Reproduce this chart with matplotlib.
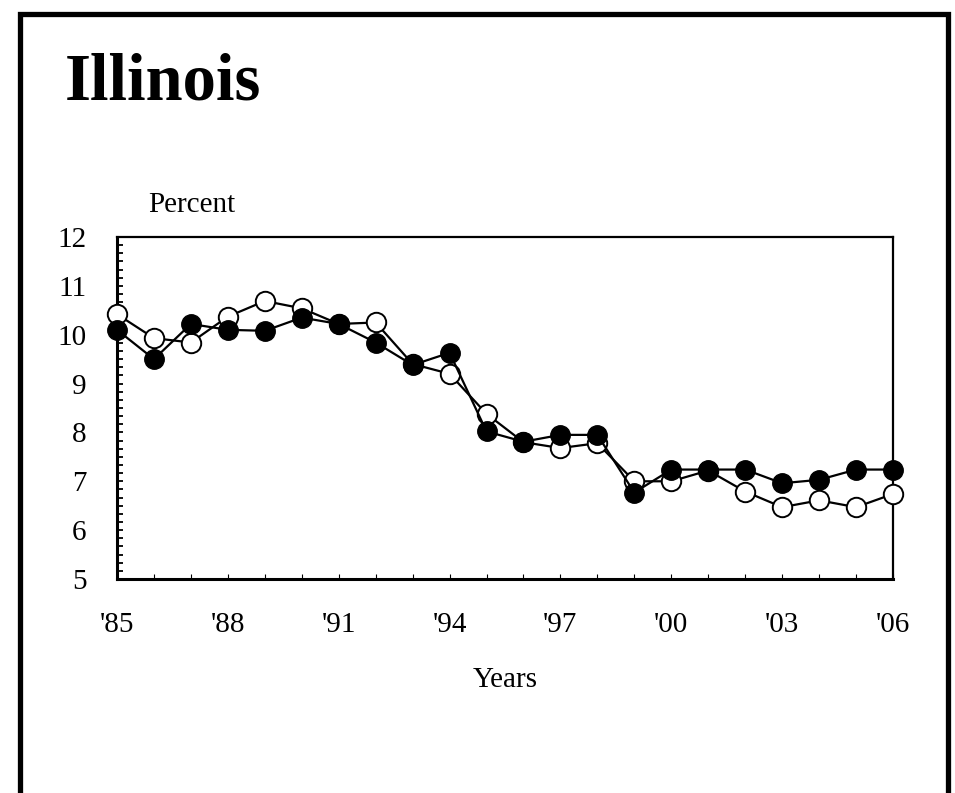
import matplotlib
matplotlib.use("Agg")
import matplotlib.pyplot as plt
from matplotlib.lines import Line2D
from matplotlib.ticker import MultipleLocator

years = [1985, 1986, 1987, 1988, 1989, 1990, 1991, 1992, 1993, 1994, 1995,
         1996, 1997, 1998, 1999, 2000, 2001, 2002, 2003, 2004, 2005, 2006]

# filled circles
filled_pct = [10.10, 9.50, 10.22, 10.10, 10.08, 10.35, 10.22, 9.84, 9.38, 9.63, 8.02,
              7.81, 7.95, 7.95, 6.77, 7.24, 7.24, 7.24, 6.96, 7.03, 7.24, 7.24]
# open circles
open_pct = [10.42, 9.93, 9.84, 10.37, 10.69, 10.54, 10.22, 10.25, 9.40, 9.20, 8.38,
            7.80, 7.68, 7.78, 7.00, 7.00, 7.22, 6.79, 6.47, 6.61, 6.47, 6.74]

label_years = [1985, 1988, 1991, 1994, 1997, 2000, 2003, 2006]

plt.rcParams['font.family'] = ['Liberation Serif', 'DejaVu Serif']

fig = plt.figure(figsize=(9.55, 7.93), dpi=100)
ax = fig.add_axes([117 / 955, 1 - 579 / 793, 776 / 955, 342 / 793])

ax.plot(years, open_pct, color='black', linewidth=1.6, marker='o', markersize=14,
        markerfacecolor='white', markeredgecolor='black', markeredgewidth=1.4,
        zorder=3, clip_on=False)
ax.plot(years, filled_pct, color='black', linewidth=1.6, marker='o', markersize=14,
        markerfacecolor='black', markeredgecolor='black', zorder=4, clip_on=False)

ax.set_xlim(1985, 2006)
ax.set_ylim(5, 12)

# x ticks every year, labels every third year
ax.set_xticks(years)
ax.set_xticklabels(["'" + str(y)[2:] if y in label_years else '' for y in years])
for y, tick in zip(years, ax.xaxis.get_major_ticks()):
    tick.tick1line.set_markersize(5 if y % 2 == 1 else 3)
    tick.tick1line.set_markeredgewidth(1.3)
ax.tick_params(axis='x', direction='in', pad=24, labelsize=21, top=False)

ax.yaxis.set_major_locator(MultipleLocator(1))
ax.yaxis.set_minor_locator(MultipleLocator(1 / 6))
ax.tick_params(axis='y', which='both', direction='in', length=4, width=1.3,
               pad=22, labelsize=21, right=False)

for side in ['left', 'bottom']:
    ax.spines[side].set_linewidth(2.2)
for side in ['top', 'right']:
    ax.spines[side].set_linewidth(1.6)

fig.text(192 / 955, 1 - 212 / 793, 'Percent', fontsize=21, ha='center', va='baseline')
fig.text(505 / 955, 1 - 687 / 793, 'Years', fontsize=21, ha='center', va='baseline')
fig.text(65 / 955, 1 - 100 / 793, 'Illinois', fontsize=48, fontweight='bold',
         ha='left', va='baseline')

# outer frame (open at the bottom)
x0, x1, ytop = 19.5 / 955, 947.5 / 955, 1 - 13.5 / 793
frame = Line2D([x0, x0, x1, x1], [-0.05, ytop, ytop, -0.05], transform=fig.transFigure,
               color='black', linewidth=3.8, solid_joinstyle='miter')
fig.add_artist(frame)

fig.savefig('out.png', dpi=100)
